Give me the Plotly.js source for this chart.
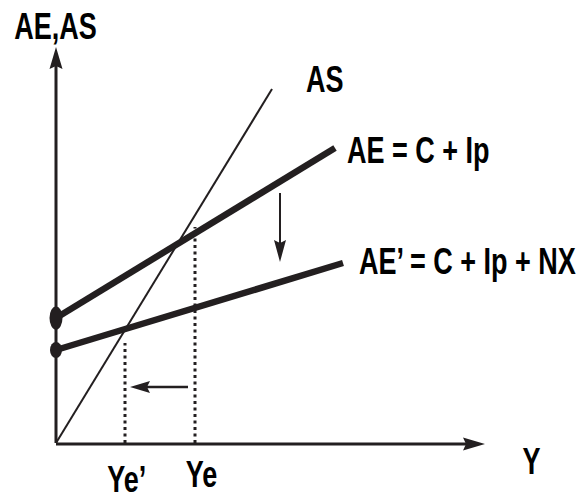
<!DOCTYPE html>
<html>
<head>
<meta charset="utf-8">
<script src="https://cdn.plot.ly/plotly-3.0.1.min.js"></script>
<style>
html,body{margin:0;padding:0;background:#fff;}
#chart{width:581px;height:501px;}
</style>
</head>
<body>
<div id="chart"></div>
<script>
// Conceptual diagram values (abstract units, origin at axes crossing)
const asX = [0, 216];
const asY = [0, 354];
const aeX = [0, 279];
const aeY = [125, 295];
const ae2X = [0, 287];
const ae2Y = [93, 180];
const yAxisTop = 396;
const xAxisRight = 429;
const yeValue = 139;
const yeTop = 216;
const yePrimeValue = 69;
const yePrimeTop = 100;
const downArrowX = 224;
const downArrowY = [250, 181];
const leftArrowY = 56;
const leftArrowX = [132, 74];
const labels = ["AE,AS", "AS", "AE = C + Ip", "AE’ = C + Ip + NX", "Y", "Ye’", "Ye"];

const ink = '#231f20';
const fontFam = '"Liberation Sans", Arial, sans-serif';
const condense = 0.73;

function line(x, y, w, dash) {
  return {type: 'scatter', mode: 'lines', x: x, y: y, hoverinfo: 'skip',
          line: {color: ink, width: w, dash: dash || 'solid'}, showlegend: false};
}
function head(tx, ty, dx, dy, len, hw, notch) {
  const px = -dy, py = dx;
  const bx = tx - dx * len, by = ty - dy * len;
  const nx = tx - dx * (len - notch), ny = ty - dy * (len - notch);
  return {type: 'path', xref: 'x', yref: 'y', fillcolor: ink, line: {width: 0},
    path: `M${tx},${ty} L${bx + px * hw},${by + py * hw} L${nx},${ny} L${bx - px * hw},${by - py * hw} Z`};
}

const traces = [
  line([0, 0], [0, yAxisTop - 15], 3),
  line([0, xAxisRight - 15], [-1, -1], 3),
  line(asX, asY, 2),
  line(aeX, aeY, 6.5),
  line(ae2X, ae2Y, 6.5),
  line([yeValue, yeValue], [0, yeTop], 3, '3px,3.5px'),
  line([yePrimeValue, yePrimeValue], [0, yePrimeTop], 3, '3px,3.5px'),
  line([downArrowX, downArrowX], [downArrowY[0], downArrowY[1] + 15], 2),
  line([leftArrowX[0], leftArrowX[1] + 15], [leftArrowY, leftArrowY], 2.5)
];

const shapes = [
  head(0, yAxisTop, 0, 1, 22, 6.5, 3),
  head(xAxisRight, -1, 1, 0, 22, 6.5, 3),
  head(downArrowX, downArrowY[1], 0, -1, 22, 6, 3),
  head(leftArrowX[1], leftArrowY, -1, 0, 20, 6, 3),
  {type: 'circle', xref: 'x', yref: 'y', x0: aeX[0] - 6.5, x1: aeX[0] + 6.5, y0: aeY[0] - 11.5, y1: aeY[0] + 11.5, fillcolor: ink, line: {width: 0}},
  {type: 'circle', xref: 'x', yref: 'y', x0: ae2X[0] - 6, x1: ae2X[0] + 6, y0: ae2Y[0] - 8, y1: ae2Y[0] + 8, fillcolor: ink, line: {width: 0}}
];

function lab(text, x, y, xa) {
  return {text: text, x: x, y: y, xref: 'x', yref: 'y', showarrow: false,
    xanchor: xa || 'center', yanchor: 'middle',
    font: {family: fontFam, size: 37, color: '#000', weight: 'bold'}};
}
const annotations = [
  lab(labels[0], -1, 416.5),
  lab(labels[1], 268, 364),
  lab(labels[2], 289, 292.5, 'left'),
  lab(labels[3], 301, 182, 'left'),
  lab(labels[4], 475, -18),
  lab(labels[5], 71, -36),
  lab(labels[6], 145, -31)
];

const layout = {
  width: 581, height: 501,
  margin: {l: 0, r: 0, t: 0, b: 0},
  paper_bgcolor: '#fff', plot_bgcolor: '#fff',
  xaxis: {range: [-56, 525], visible: false, fixedrange: true},
  yaxis: {range: [-58, 443], visible: false, fixedrange: true},
  shapes: shapes,
  annotations: annotations,
  showlegend: false
};
Plotly.newPlot('chart', traces, layout, {staticPlot: true, displayModeBar: false}).then(function (gd) {
  // condensed lettering: squeeze each label horizontally about its anchor side
  const nodes = gd.querySelectorAll('g.annotation');
  nodes.forEach(function (g, i) {
    const t = g.querySelector('text.annotation-text');
    if (!t) return;
    const a = annotations[i];
    t.style.transformBox = 'fill-box';
    t.style.transformOrigin = (a.xanchor === 'left' ? 'left' : 'center') + ' center';
    t.style.transform = 'scaleX(' + condense + ')';
  });
});
</script>
</body>
</html>
